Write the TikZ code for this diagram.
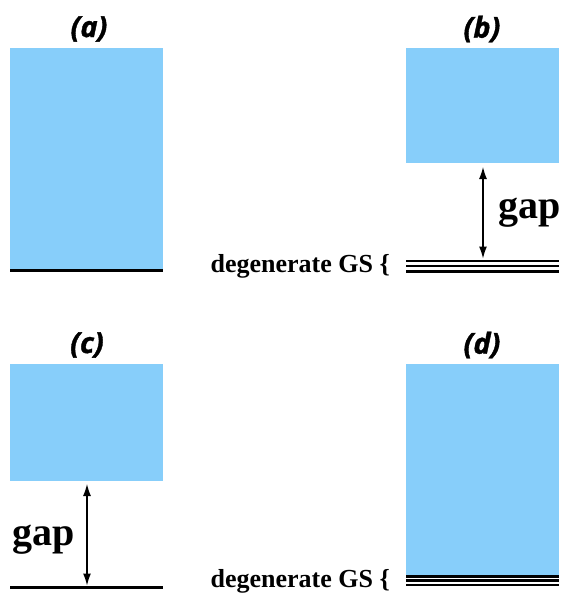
\documentclass[tikz,border=0pt]{standalone}
\usepackage{fontspec}
\setmainfont{Liberation Serif}
\newfontfamily\labfont[BoldItalicFeatures={FakeBold=1.2}]{Open Sans}
\usetikzlibrary{arrows.meta}
\definecolor{band}{RGB}{135,206,250}
\begin{document}
\begin{tikzpicture}[x=1pt,y=-1pt,
  bandbox/.style={fill=band, draw=none, anchor=north west, inner sep=0, outer sep=0, minimum width=153pt},
  panel/.style={font=\labfont\bfseries\itshape\fontsize{29}{32}\selectfont, inner sep=0},
  gaptext/.style={font=\bfseries\fontsize{40}{44}\selectfont, inner sep=0, anchor=base west},
  gstext/.style={font=\bfseries\fontsize{26}{30}\selectfont, inner sep=0, anchor=base east},
  level/.style={line width=3pt},
  sublevel/.style={line width=2.5pt},
  gaparrow/.style={line width=1.2pt, {Latex[length=12pt,width=8pt]}-{Latex[length=12pt,width=8pt]}}
]
\useasboundingbox (0,0) rectangle (566,595);
% panel labels
\node[panel] (la) at (89,29) {(a)};
\node[panel] (lb) at (482,29) {(b)};
\node[panel] (lc) at (87,345) {(c)};
\node[panel] (ld) at (482,345) {(d)};
% bands
\node[bandbox, minimum height=222pt] (ba) at (10,48) {};
\node[bandbox, minimum height=115pt] (bb) at (406,48) {};
\node[bandbox, minimum height=117pt] (bc) at (10,364) {};
\node[bandbox, minimum height=211pt] (bd) at (406,364) {};
% (a) level
\draw[level] (10,270) -- (163,270);
% (b) levels
\draw[sublevel] (406,261) -- (559,261);
\draw[sublevel] (406,266) -- (559,266);
\draw[sublevel] (406,271.3) -- (559,271.3);
\coordinate (b1) at (483,167);
\coordinate (b2) at (483,258.5);
\draw[gaparrow] (b1) -- (b2);
\node[gaptext] (gb) at (498,218) {gap};
\node[gstext] (gsb) at (390,272) {degenerate GS \{};
% (c)
\draw[level] (10,587.5) -- (163,587.5);
\coordinate (c1) at (87,484);
\coordinate (c2) at (87,585.5);
\draw[gaparrow] (c1) -- (c2);
\node[gaptext] (gc) at (12,545) {gap};
% (d)
\draw[sublevel] (406,576.5) -- (559,576.5);
\draw[sublevel] (406,580.5) -- (559,580.5);
\draw[sublevel] (406,584.8) -- (559,584.8);
\node[gstext] (gsd) at (390,587) {degenerate GS \{};
\end{tikzpicture}
\end{document}
